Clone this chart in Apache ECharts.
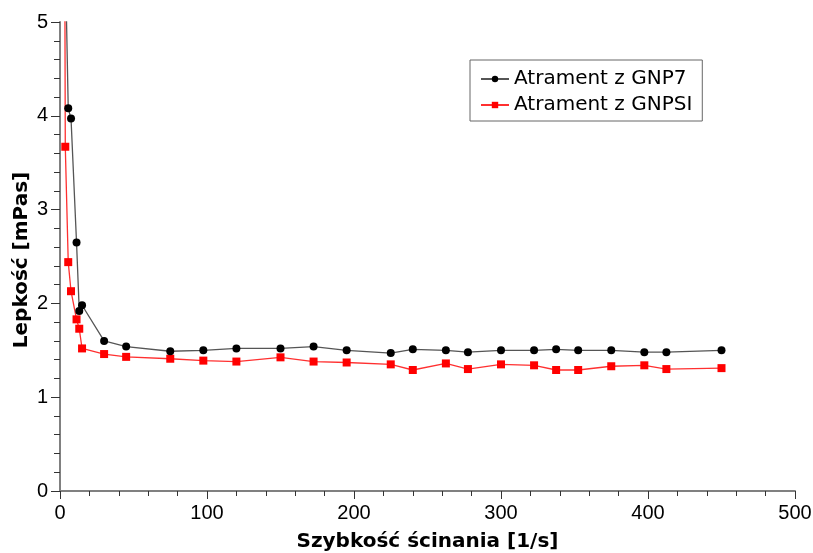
<!DOCTYPE html>
<html>
<head>
<meta charset="utf-8">
<script src="https://cdn.jsdelivr.net/npm/echarts@6/dist/echarts.min.js"></script>
<style>
  html, body { margin: 0; padding: 0; background: #fff; }
  #chart { width: 813px; height: 553px; }
</style>
</head>
<body>
<div id="chart"></div>
<script>
// Shear rate [1/s] and viscosity [mPas] for the two inks
const shearGNP7 = [3.2, 5.6, 7.5, 11.25, 13.1, 15, 30, 45, 75, 97.5, 120, 150, 172.5, 195, 225, 240, 262.5, 277.5, 300, 322.5, 337.5, 352.5, 375, 397.5, 412.5, 450];
const viscGNP7  = [6.0, 4.08, 3.97, 2.65, 1.92, 1.98, 1.60, 1.54, 1.49, 1.50, 1.52, 1.52, 1.54, 1.50, 1.47, 1.51, 1.50, 1.48, 1.50, 1.50, 1.51, 1.50, 1.50, 1.48, 1.48, 1.50];

const shearGNPSI = [3.2, 3.6, 5.6, 7.5, 11.25, 13.1, 15, 30, 45, 75, 97.5, 120, 150, 172.5, 195, 225, 240, 262.5, 277.5, 300, 322.5, 337.5, 352.5, 375, 397.5, 412.5, 450];
const viscGNPSI  = [6.0, 3.67, 2.44, 2.13, 1.83, 1.73, 1.52, 1.46, 1.43, 1.41, 1.39, 1.38, 1.425, 1.38, 1.37, 1.35, 1.29, 1.36, 1.30, 1.35, 1.34, 1.29, 1.29, 1.33, 1.34, 1.30, 1.31];

const seriesNames = ['Atrament z GNP7', 'Atrament z GNPSI'];
const xTitle = 'Szybkość ścinania [1/s]';
const yTitle = 'Lepkość [mPas]';

const pairs = (xs, ys) => xs.map((x, i) => [x, ys[i]]);

const font = 'DejaVu Sans';
const tickFont = 'Liberation Sans';
const chart = echarts.init(document.getElementById('chart'));
chart.setOption({
  animation: false,
  backgroundColor: '#ffffff',
  grid: { left: 60, right: 18, top: 22, bottom: 62, outerBoundsMode: 'none' },
  legend: {
    orient: 'vertical',
    left: 470, top: 60,
    padding: [9, 10, 6, 10],
    itemGap: 6,
    itemWidth: 28, itemHeight: 8,
    borderColor: '#666', borderWidth: 1,
    textStyle: { fontFamily: font, fontSize: 20, color: '#000' },
    data: seriesNames
  },
  // vertical axis title, rotated and centred beside the value axis
  graphic: [{
    type: 'text',
    x: 22, y: 260,
    rotation: Math.PI / 2,
    style: {
      text: yTitle,
      fontFamily: font, fontSize: 20, fontWeight: 'bold',
      fill: '#000',
      align: 'center', verticalAlign: 'middle'
    }
  }],
  xAxis: {
    type: 'value', min: 0, max: 500, interval: 100,
    name: xTitle, nameLocation: 'middle', nameGap: 41,
    nameTextStyle: { fontFamily: font, fontSize: 20, fontWeight: 'bold', color: '#000' },
    axisLine: { show: true, lineStyle: { color: '#808080', width: 2 } },
    axisTick: { show: true, length: 8, lineStyle: { color: '#333' } },
    minorTick: { show: true, splitNumber: 5, length: 5, lineStyle: { color: '#333' } },
    splitLine: { show: false },
    axisLabel: { fontFamily: tickFont, fontSize: 20, color: '#000', margin: 12 }
  },
  yAxis: {
    type: 'value', min: 0, max: 5, interval: 1,
    axisLine: { show: true, lineStyle: { color: '#808080', width: 2 } },
    axisTick: { show: true, length: 9, lineStyle: { color: '#333' } },
    minorTick: { show: true, splitNumber: 5, length: 6, lineStyle: { color: '#333' } },
    splitLine: { show: false },
    axisLabel: { fontFamily: tickFont, fontSize: 20, color: '#000', margin: 12 }
  },
  series: [
    {
      name: seriesNames[0], type: 'line', clip: true,
      data: pairs(shearGNP7, viscGNP7),
      symbol: 'circle', symbolSize: 8,
      itemStyle: { color: '#000' },
      lineStyle: { color: '#555', width: 1.3 },
      z: 3
    },
    {
      name: seriesNames[1], type: 'line', clip: true,
      data: pairs(shearGNPSI, viscGNPSI),
      symbol: 'rect', symbolSize: 8,
      itemStyle: { color: '#ff0000' },
      lineStyle: { color: '#ff3030', width: 1.3 },
      z: 2
    }
  ]
});
</script>
</body>
</html>
